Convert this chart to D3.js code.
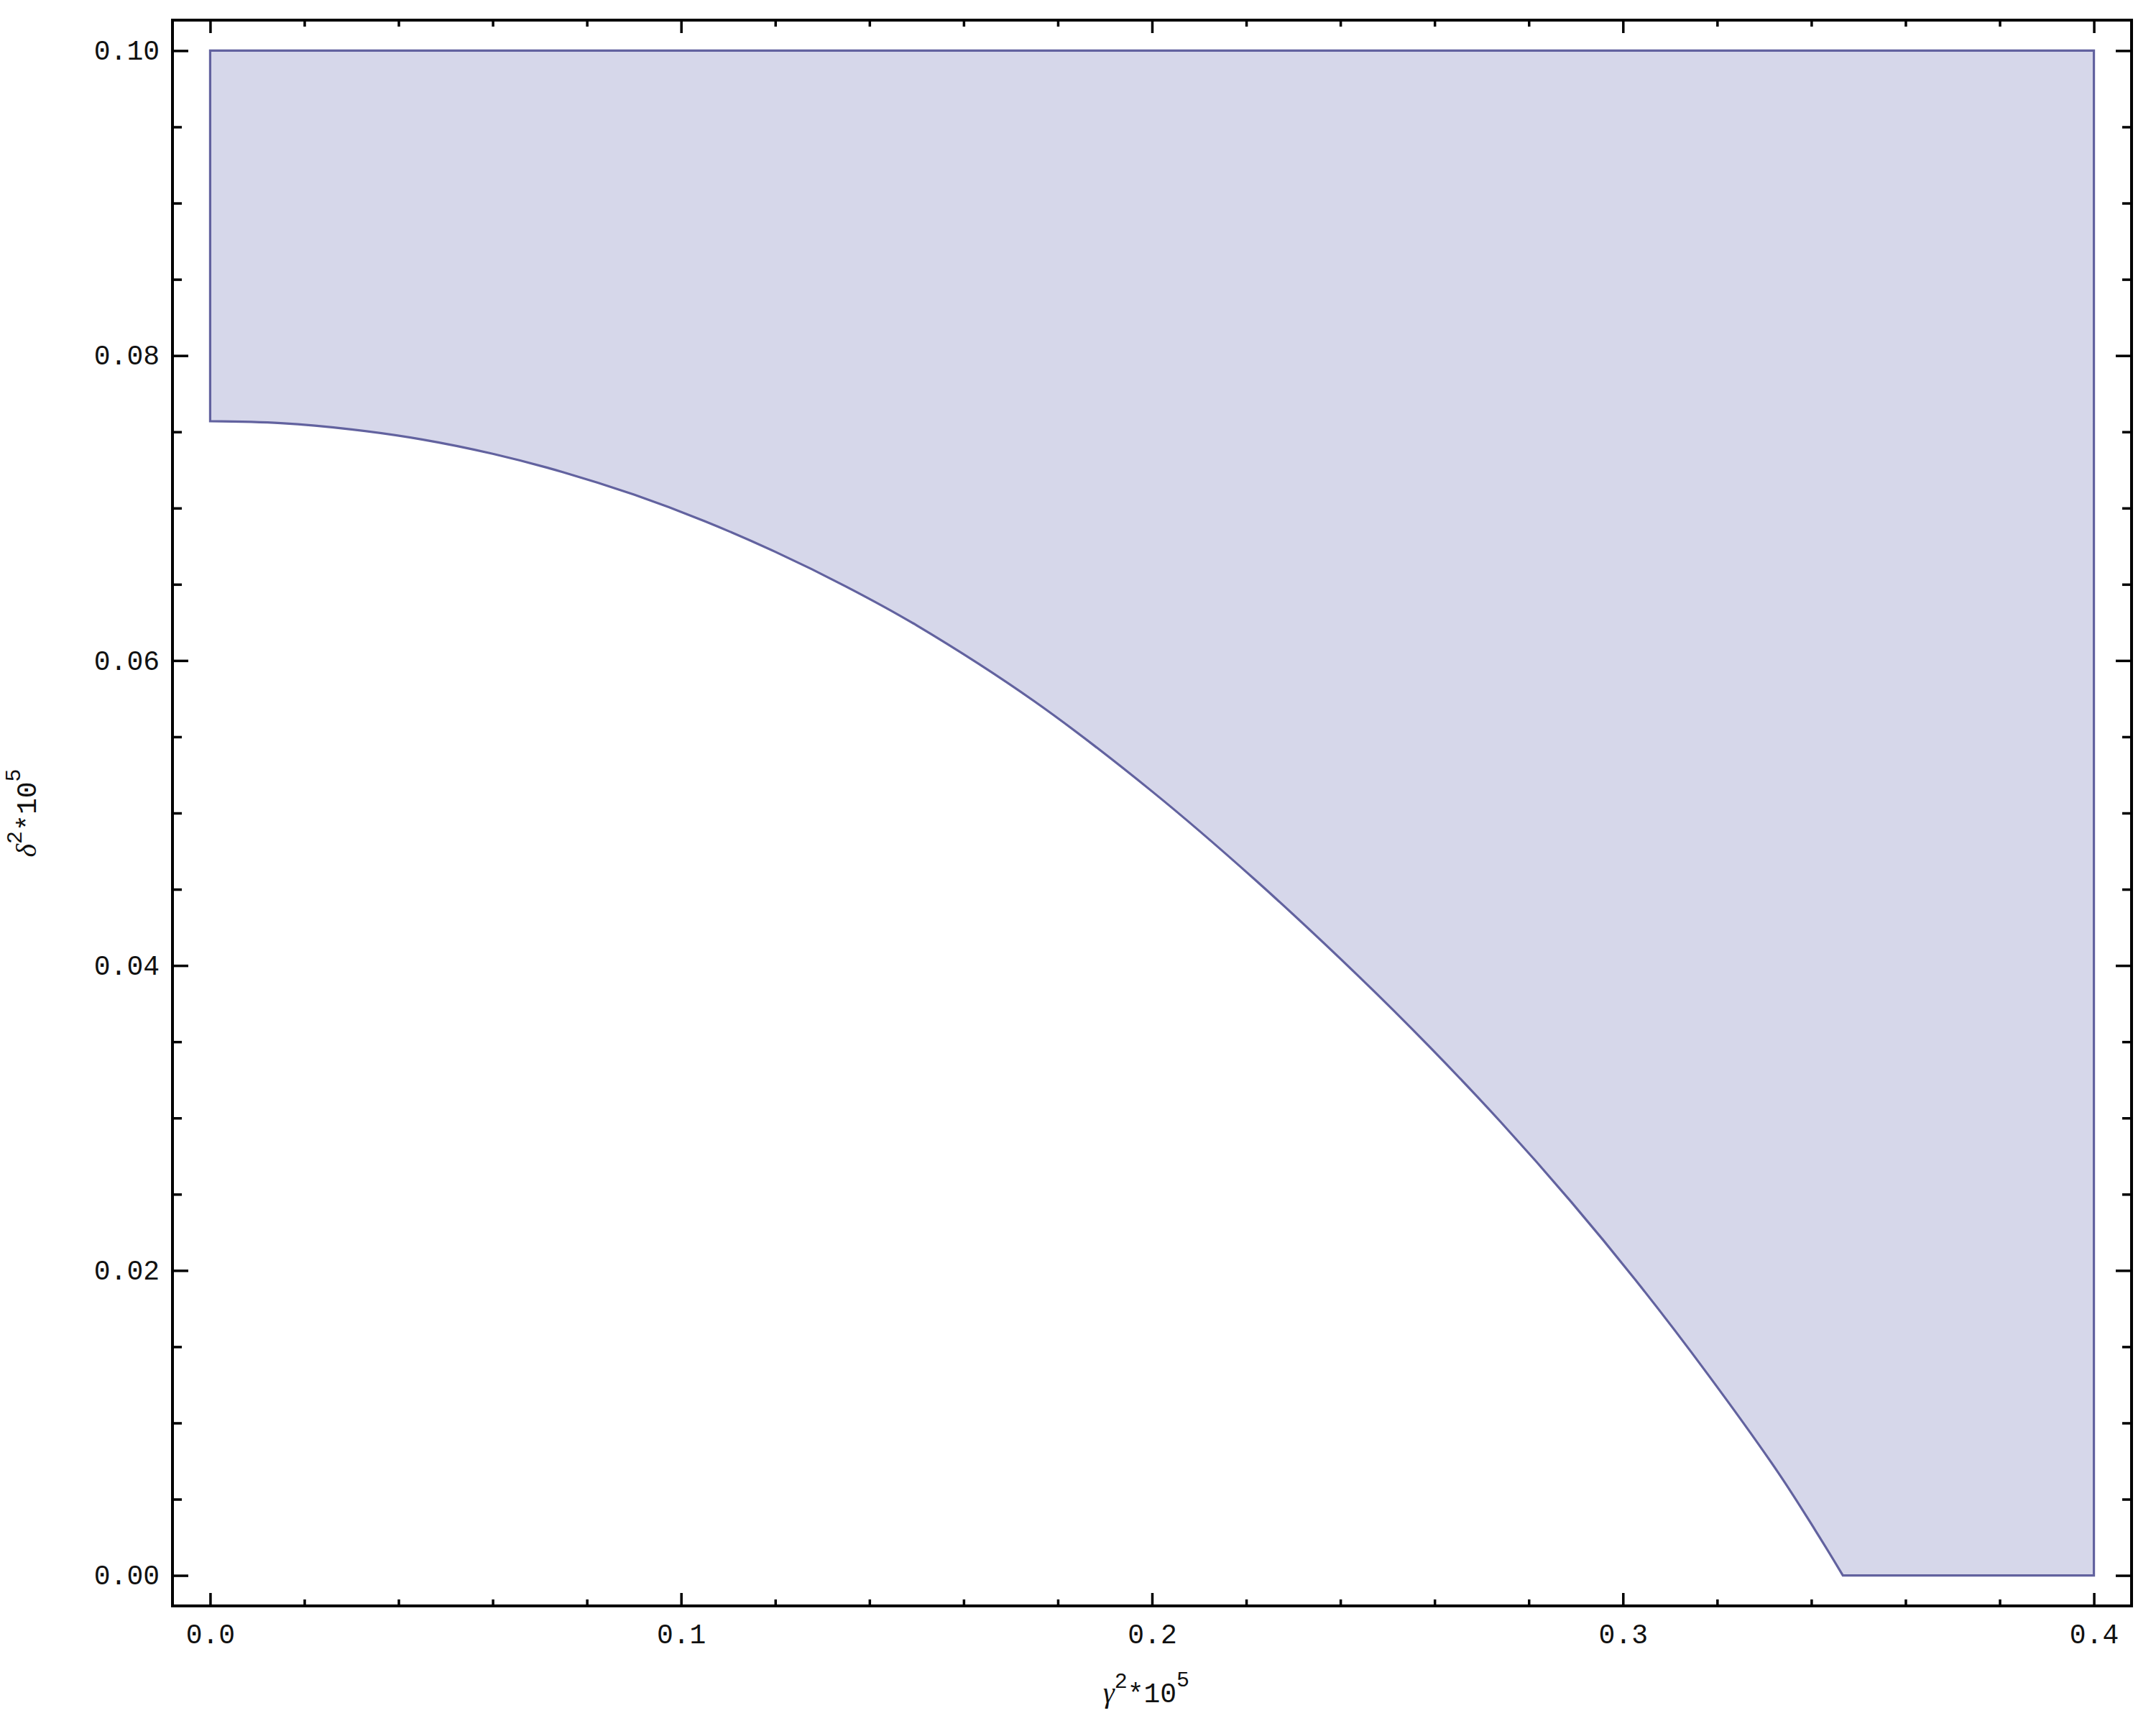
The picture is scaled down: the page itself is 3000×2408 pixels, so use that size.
<!DOCTYPE html>
<html>
<head>
<meta charset="utf-8">
<script src="https://cdn.jsdelivr.net/npm/d3@7"></script>
<style>
  body { margin: 0; background: #fff; }
  text { font-family: "Liberation Mono", "Courier New", monospace; fill: #111; }
</style>
</head>
<body>
<div id="chart"></div>
<script>
// tick labels
const xTicks = [0, 0.1, 0.2, 0.3, 0.4]
const yTicks = [0, 0.02, 0.04, 0.06, 0.08, 0.1]

// lower boundary of the region (gamma^2*1e5, delta^2*1e5)
const boundaryGamma = [0, 0.015, 0.03, 0.045, 0.06, 0.075, 0.09, 0.105, 0.12, 0.135, 0.15,
  0.175, 0.2, 0.222, 0.244, 0.259, 0.274, 0.289, 0.3035, 0.318, 0.333, 0.3407, 0.3467]
const boundaryDelta = [0.0757, 0.07557, 0.07516, 0.0745, 0.07356, 0.07235, 0.07088, 0.06914, 0.06713, 0.06486, 0.06231,
  0.05733, 0.05142, 0.04559, 0.03926, 0.03465, 0.02975, 0.0245, 0.01905, 0.0132, 0.00673, 0.00303, 0]

// remaining corners of the region (going round from the end of the curve)
const cornerGamma = [0.4, 0.4, 0]
const cornerDelta = [0, 0.1, 0.1]

const width = 3000
const height = 2408
const frame = {left: 240, right: 2966, top: 28, bottom: 2234}

const svg = d3.select('#chart')
  .append('svg')
  .attr('width', width)
  .attr('height', height)

svg.append('rect')
  .attr('width', width)
  .attr('height', height)
  .attr('fill', '#fff')

// Mathematica pads the plot range by 2% on each side
const x = d3.scaleLinear().domain([-0.008, 0.408]).range([frame.left, frame.right])
const y = d3.scaleLinear().domain([-0.002, 0.102]).range([frame.bottom, frame.top])

// the region itself
const curvePts = boundaryGamma.map((g, i) => [g, boundaryDelta[i]])
const curve = d3.line()
  .x(d => x(d[0]))
  .y(d => y(d[1]))
  .curve(d3.curveCatmullRom)(curvePts)
const corners = cornerGamma.map((g, i) => `L${x(g)},${y(cornerDelta[i])}`).join('')

svg.append('path')
  .attr('d', curve + corners + 'Z')
  .attr('fill', '#d6d7ea')
  .attr('stroke', '#62629f')
  .attr('stroke-width', 3.2)
  .attr('stroke-linejoin', 'miter')

// ticks, all pointing into the frame
const xMinor = d3.range(0, 0.4001, 0.02).filter(v => Math.abs(v * 10 - Math.round(v * 10)) > 1e-6)
const yMinor = d3.range(0, 0.1001, 0.005).filter(v => Math.abs(v * 50 - Math.round(v * 50)) > 1e-6)

function styleAxis (g) {
  g.select('.domain').remove()
  g.selectAll('line').attr('stroke', '#000').attr('stroke-width', 3.5)
  g.selectAll('text').attr('font-size', 38).attr('fill', '#111')
}

svg.append('g')
  .attr('transform', `translate(0,${frame.bottom})`)
  .call(d3.axisBottom(x).tickValues(xTicks).tickSize(-18).tickPadding(25).tickFormat(d3.format('.1f')))
  .call(styleAxis)
svg.append('g')
  .attr('transform', `translate(0,${frame.bottom})`)
  .call(d3.axisBottom(x).tickValues(xMinor).tickSize(-9).tickFormat(''))
  .call(styleAxis)
svg.append('g')
  .attr('transform', `translate(0,${frame.top})`)
  .call(d3.axisTop(x).tickValues(xTicks).tickSize(-18).tickFormat(''))
  .call(styleAxis)
svg.append('g')
  .attr('transform', `translate(0,${frame.top})`)
  .call(d3.axisTop(x).tickValues(xMinor).tickSize(-9).tickFormat(''))
  .call(styleAxis)

svg.append('g')
  .attr('transform', `translate(${frame.left},0)`)
  .call(d3.axisLeft(y).tickValues(yTicks).tickSize(-22).tickPadding(18).tickFormat(d3.format('.2f')))
  .call(styleAxis)
svg.append('g')
  .attr('transform', `translate(${frame.left},0)`)
  .call(d3.axisLeft(y).tickValues(yMinor).tickSize(-13).tickFormat(''))
  .call(styleAxis)
svg.append('g')
  .attr('transform', `translate(${frame.right},0)`)
  .call(d3.axisRight(y).tickValues(yTicks).tickSize(-22).tickFormat(''))
  .call(styleAxis)
svg.append('g')
  .attr('transform', `translate(${frame.right},0)`)
  .call(d3.axisRight(y).tickValues(yMinor).tickSize(-13).tickFormat(''))
  .call(styleAxis)

// frame
svg.append('rect')
  .attr('x', frame.left)
  .attr('y', frame.top)
  .attr('width', frame.right - frame.left)
  .attr('height', frame.bottom - frame.top)
  .attr('fill', 'none')
  .attr('stroke', '#000')
  .attr('stroke-width', 4)

// axis labels
function axisLabel (sel, sym) {
  sel.append('tspan').text(sym)
    .attr('font-family', '"Liberation Serif", serif')
    .attr('font-style', 'italic')
    .attr('font-size', 40)
  sel.append('tspan').text('2').attr('font-size', 30).attr('dy', -20)
  sel.append('tspan').text('*10').attr('font-size', 38).attr('dy', 20)
  sel.append('tspan').text('5').attr('font-size', 30).attr('dy', -22)
}

svg.append('text')
  .attr('x', (frame.left + frame.right) / 2 - 8)
  .attr('y', 2368)
  .attr('text-anchor', 'middle')
  .call(axisLabel, 'γ')

svg.append('text')
  .attr('transform', `translate(50,${(frame.top + frame.bottom) / 2}) rotate(-90)`)
  .attr('text-anchor', 'middle')
  .call(axisLabel, 'δ')
</script>
</body>
</html>
